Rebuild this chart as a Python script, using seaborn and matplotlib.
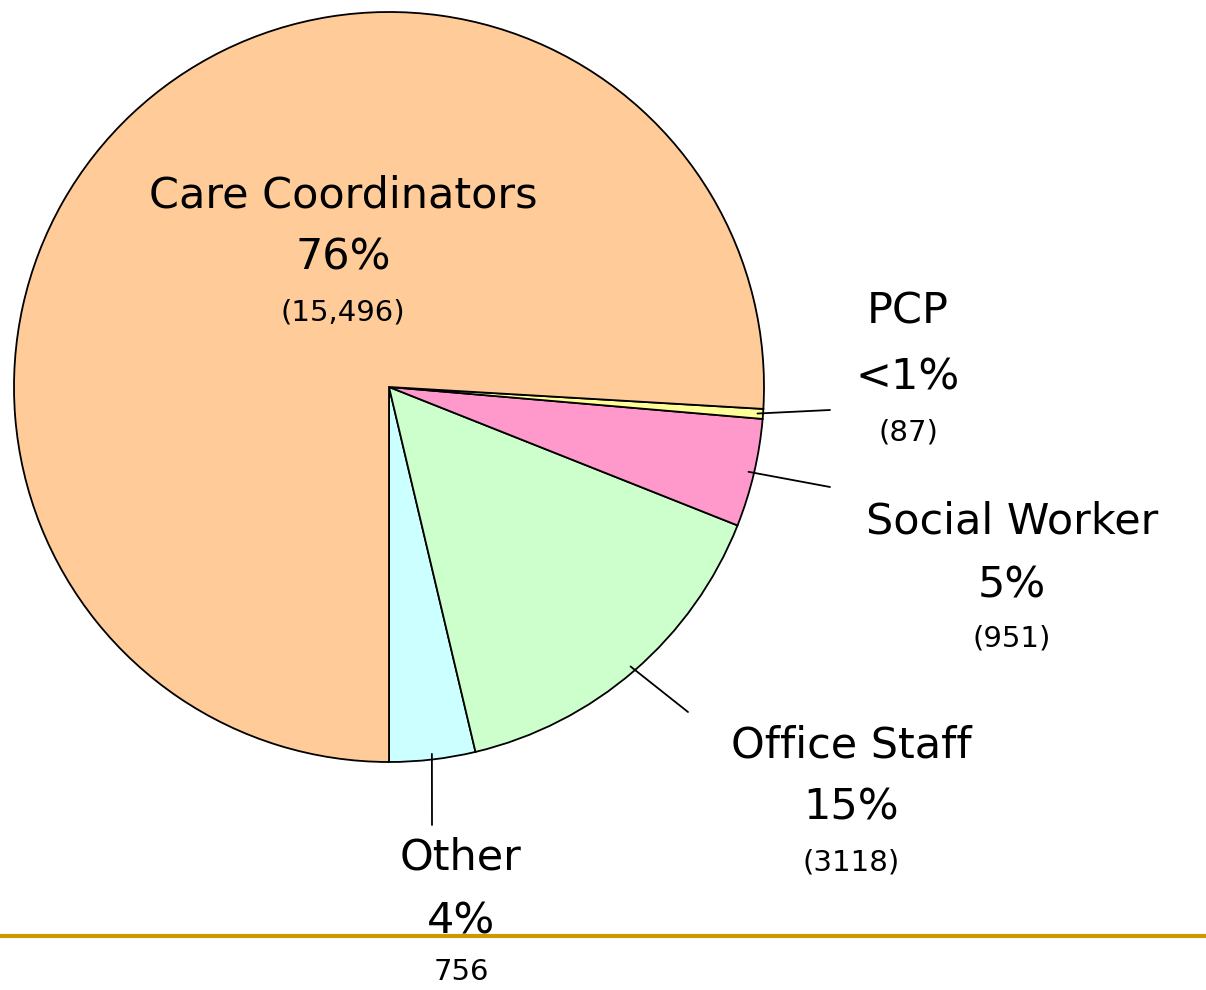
import numpy as np
import matplotlib
matplotlib.use("Agg")
import matplotlib.pyplot as plt
import seaborn as sns

# data
labels = ["Other", "Office Staff", "Social Worker", "PCP", "Care Coordinators"]
counts = [756, 3118, 951, 87, 15496]
pct_text = ["4%", "15%", "5%", "<1%", "76%"]
count_text = ["756", "(3118)", "(951)", "(87)", "(15,496)"]
colors = ["#CCFFFF", "#CCFFCC", "#FF99CC", "#FFFF99", "#FFCC99"]

sns.set_theme(style="white")
plt.rcParams["font.family"] = ["DejaVu Sans"]
plt.rcParams["text.color"] = "black"

W, H = 1206, 990
fig = plt.figure(figsize=(W / 100, H / 100), dpi=100)
ax = fig.add_axes([0, 0, 1, 1])

cx, cy, R = 389, H - 387, 375
wedges, _ = ax.pie(counts, colors=colors, startangle=270, counterclock=True,
                   center=(cx, cy), radius=R,
                   wedgeprops=dict(edgecolor="black", linewidth=1.3))

ax.set_xlim(0, W)
ax.set_ylim(0, H)
ax.set_aspect("equal")
ax.axis("off")

# label blocks: (x center, name y, pct y, count y) in pixel rows
label_pos = {
    "Care Coordinators": (343, 195, 258, 312),
    "PCP": (908, 312, 378, 432),
    "Social Worker": (1012, 521, 586, 638),
    "Office Staff": (851, 745, 808, 862),
    "Other": (461, 857, 921, 972),
}
for lab, pt, ct in zip(labels, pct_text, count_text):
    x, y1, y2, y3 = label_pos[lab]
    ax.text(x, H - y1, lab, ha="center", va="center", fontsize=31, color="black", zorder=5)
    ax.text(x, H - y2, pt, ha="center", va="center", fontsize=31, color="black", zorder=5)
    ax.text(x, H - y3, ct, ha="center", va="center", fontsize=21, color="black", zorder=5)

# leader lines from wedge mid-angle edge to label
leader_end = {"PCP": (830, 410), "Social Worker": (830, 487),
              "Office Staff": (688, 712), "Other": (432, 825)}
for w, lab in zip(wedges, labels):
    if lab not in leader_end:
        continue
    ang = np.deg2rad((w.theta1 + w.theta2) / 2)
    x0 = cx + R * 0.985 * np.cos(ang)
    y0 = cy + R * 0.985 * np.sin(ang)
    ex, ey = leader_end[lab]
    ax.plot([x0, ex], [y0, H - ey], color="black", lw=1.3, zorder=4)

# gold rule near the bottom
ax.plot([0, W], [H - 936, H - 936], color="#CC9900", lw=3, zorder=3)

fig.savefig("out.png", dpi=100)
